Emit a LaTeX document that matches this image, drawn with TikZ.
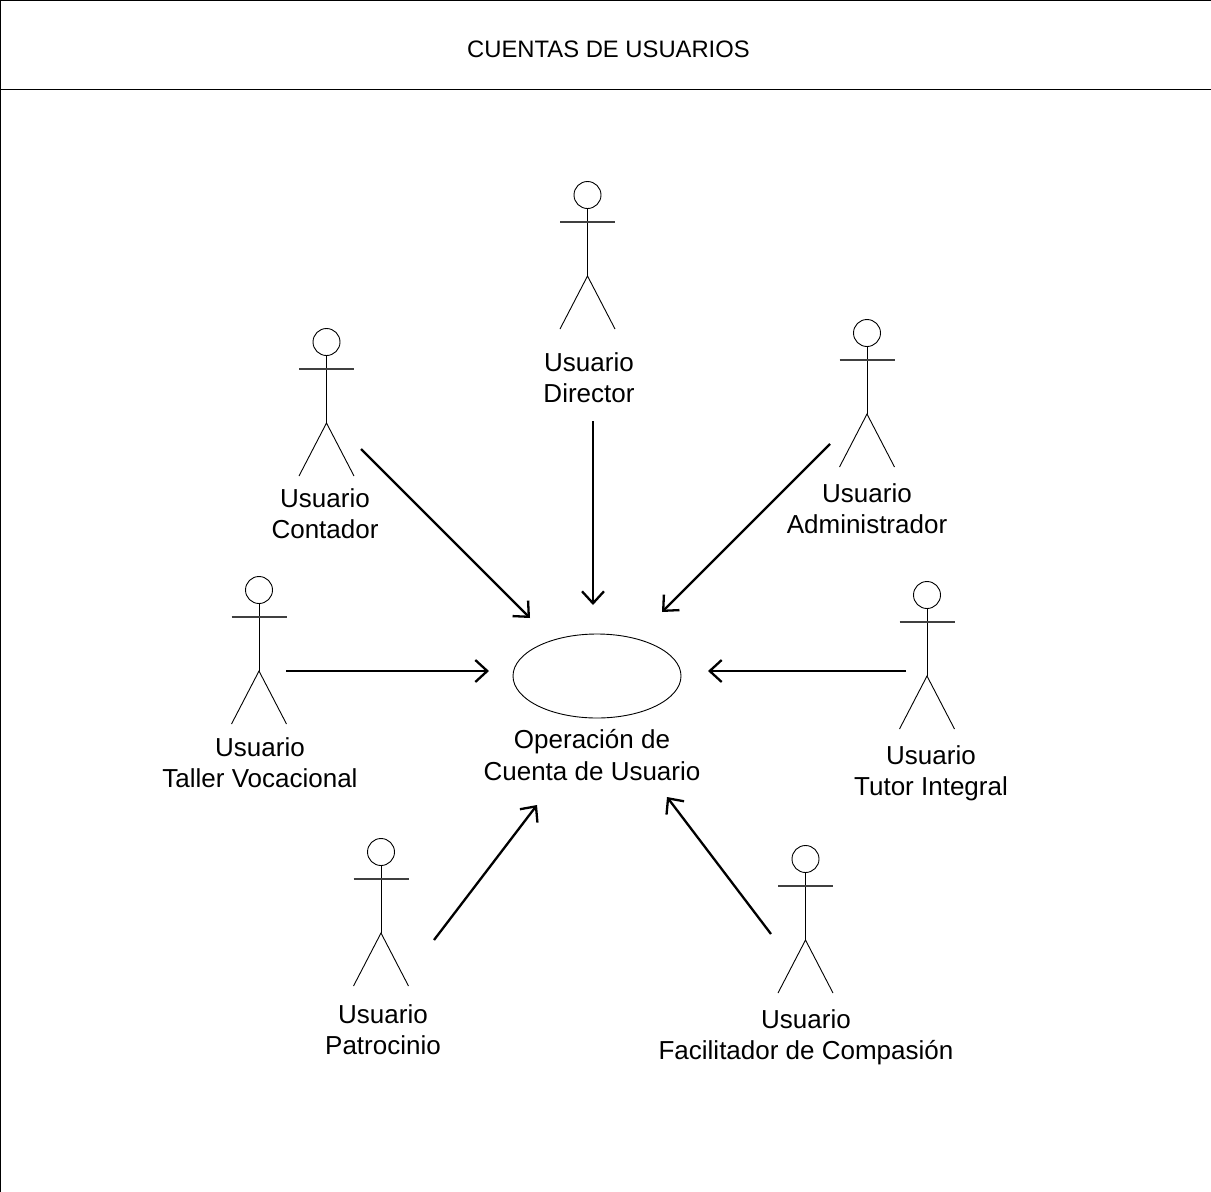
\documentclass[tikz,border=0pt]{standalone}
\usepackage{fontspec}
\setmainfont{Liberation Sans}
\usetikzlibrary{arrows.meta}
\tikzset{
  lbl/.style={align=center,font=\fontsize{26.0}{31.2}\selectfont,inner sep=0pt},
  conn/.style={line width=2.3pt,-{Straight Barb[length=12pt,width=22pt,line width=2.3pt]}},
  thin line/.style={line width=0.9pt},
  arm line/.style={line width=1.2pt,black!75}
}
\newcommand{\actor}[2]{%
  \draw[thin line] (#1,{-(#2)}) circle (13.5);
  \draw[thin line] (#1,{-(#2+13.5)}) -- (#1,{-(#2+81)});
  \draw[arm line] ({#1-27.5},{-(#2+27)}) -- ({#1+27.5},{-(#2+27)});
  \draw[thin line] ({#1-27.5},{-(#2+134)}) -- (#1,{-(#2+81)}) -- ({#1+27.5},{-(#2+134)});
}
\begin{document}
\begin{tikzpicture}[x=1pt,y=1pt]
\useasboundingbox (0,0) rectangle (1211,-1192);
\draw[thin line] (0.5,-1192) -- (0.5,-0.5) -- (1211,-0.5);
\draw[thin line] (0.5,-89) -- (1211,-89);
\node[font=\fontsize{23.8}{28}\selectfont,inner sep=0pt] (title) at (608.5,-49) {CUENTAS DE USUARIOS};
\actor{587.5}{195}
\actor{326.5}{342}
\actor{867}{333}
\actor{259}{590}
\actor{927}{595}
\actor{381}{852}
\actor{805.5}{859}
\draw[thin line] (597,-676) ellipse (84 and 42);
\node[lbl] (director) at (589,-378) {Usuario\\Director};
\node[lbl] (contador) at (325,-514) {Usuario\\Contador};
\node[lbl] (admin) at (867,-509) {Usuario\\Administrador};
\node[lbl] (taller) at (260,-763) {Usuario\\Taller Vocacional};
\node[lbl] (tutor) at (931,-773) {Usuario\\Tutor Integral};
\node[lbl] (oper) at (592,-755) {Operación de\\Cuenta de Usuario};
\node[lbl] (patro) at (383,-1029.5) {Usuario\\Patrocinio};
\node[lbl] (facil) at (806,-1037.5) {Usuario\\Facilitador de Compasión};
\coordinate (a1) at (593,-421); \coordinate (b1) at (593,-605);
\coordinate (a2) at (361,-449); \coordinate (b2) at (530,-618);
\coordinate (a3) at (830,-444); \coordinate (b3) at (662,-612);
\coordinate (a4) at (286,-671); \coordinate (b4) at (489,-671);
\coordinate (a5) at (906,-671); \coordinate (b5) at (708,-671);
\coordinate (a6) at (434,-940); \coordinate (b6) at (537,-805);
\coordinate (a7) at (771,-934); \coordinate (b7) at (667,-797);
\foreach \i in {1,...,7} \draw[conn] (a\i) -- (b\i);
\end{tikzpicture}
\end{document}
